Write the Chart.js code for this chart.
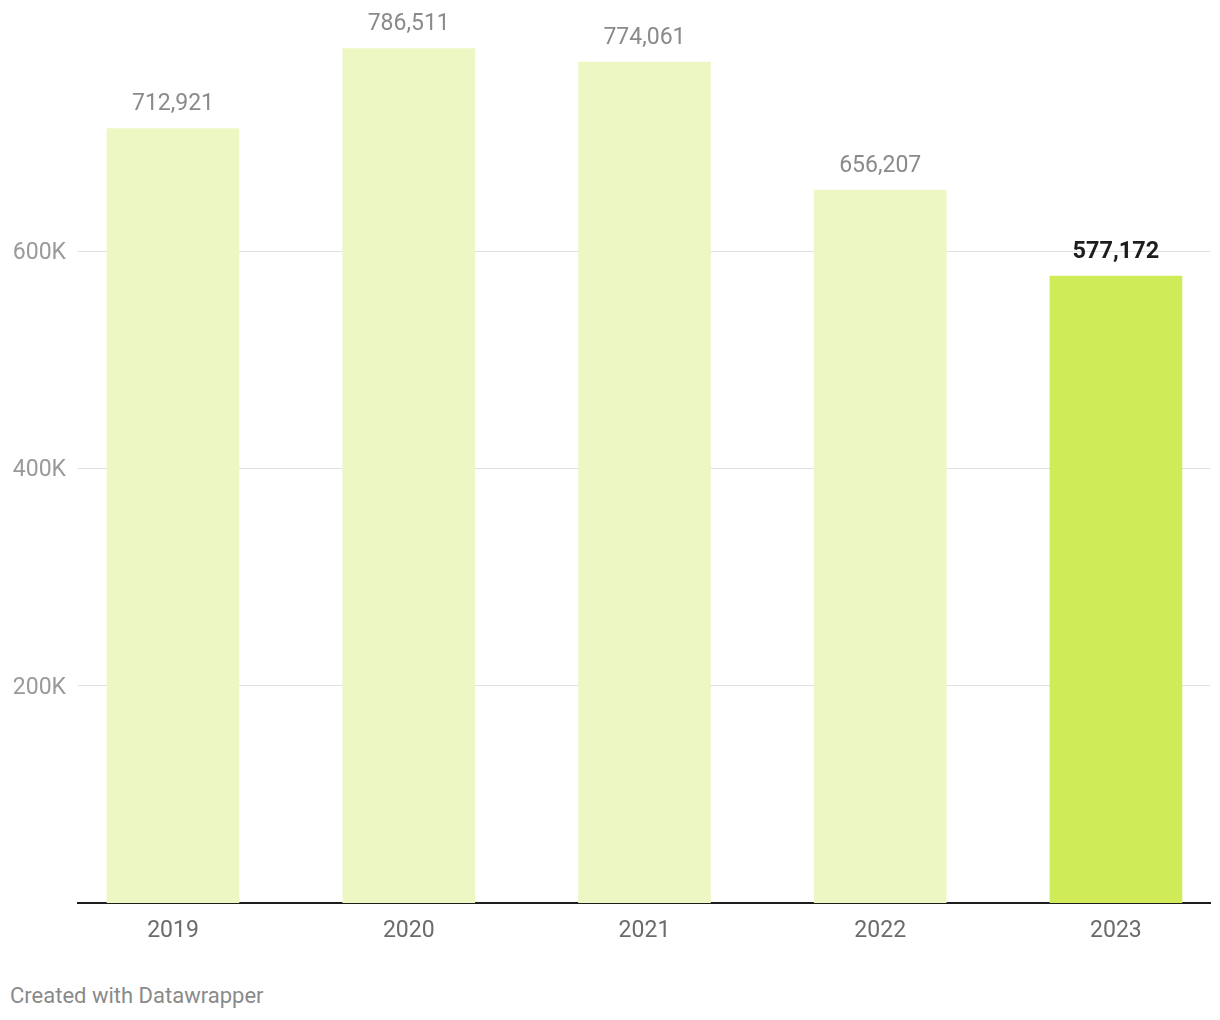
<!DOCTYPE html>
<html>
<head>
<meta charset="utf-8">
<script src="https://cdn.jsdelivr.net/npm/chart.js@4/dist/chart.umd.min.js"></script>
<style>
  body { margin: 0; background: #fff; font-family: Roboto, sans-serif; }
  #wrap { position: relative; width: 1220px; height: 1020px; }
  #footer { position: absolute; left: 10px; top: 983px; font-size: 22px; line-height: 26px; color: #8a8a8a; }
</style>
</head>
<body>
<div id="wrap">
  <canvas id="barChart" width="1220" height="960"></canvas>
  <div id="footer">Created with Datawrapper</div>
</div>
<script>
const years = ["2019", "2020", "2021", "2022", "2023"];
const values = [712921, 786511, 774061, 656207, 577172];
const yTicks = [200000, 400000, 600000];

const barColors = years.map((y, i) => i === years.length - 1 ? "#cfeb57" : "#edf7c4");

const valueLabels = {
    id: "valueLabels",
    afterDatasetsDraw(chart) {
        const ctx = chart.ctx;
        const meta = chart.getDatasetMeta(0);
        ctx.save();
        ctx.textAlign = "center";
        ctx.textBaseline = "middle";
        meta.data.forEach((bar, i) => {
            const last = i === values.length - 1;
            ctx.font = last ? "bold 23.5px Roboto" : "23px Roboto";
            ctx.fillStyle = last ? "#1d1d1d" : "#8a8a8a";
            ctx.fillText(values[i].toLocaleString("en-US"), bar.x, bar.y - 24);
        });
        ctx.restore();
    }
};

function initChart() {
    const ctx = document.getElementById("barChart").getContext("2d");

    new Chart(ctx, {
        type: "bar",
        data: {
            datasets: [{
                data: values.map((v, i) => ({ x: i, y: v })),
                backgroundColor: barColors,
                barThickness: 132,
                borderWidth: 0
            }]
        },
        options: {
            responsive: false,
            animation: false,
            layout: { padding: { top: 34, right: 10, left: 0, bottom: 0 } },
            plugins: {
                legend: { display: false },
                tooltip: { enabled: false }
            },
            scales: {
                x: {
                    type: "linear",
                    offset: false,
                    min: -0.403,
                    max: 4.399,
                    afterBuildTicks(scale) {
                        scale.ticks = years.map((y, i) => ({ value: i }));
                    },
                    afterFit(scale) { scale.height = 57; },
                    grid: { display: false, drawTicks: false },
                    border: { color: "#1d1d1d", width: 2 },
                    ticks: {
                        padding: 14,
                        color: "#6b6b6b",
                        font: { family: "Roboto", size: 23 },
                        callback: (v) => years[v]
                    }
                },
                y: {
                    min: 0,
                    max: 800000,
                    afterBuildTicks(scale) {
                        scale.ticks = yTicks.map(v => ({ value: v }));
                    },
                    afterFit(scale) { scale.width = 78; },
                    border: { display: false },
                    grid: { color: "#e0e0e0", lineWidth: 1, drawTicks: false },
                    ticks: {
                        padding: 12,
                        labelOffset: 2,
                        color: "#9a9a9a",
                        font: { family: "Roboto", size: 23 },
                        callback: (v) => (v / 1000) + "K"
                    }
                }
            }
        },
        plugins: [valueLabels]
    });
}

initChart();
</script>
</body>
</html>
